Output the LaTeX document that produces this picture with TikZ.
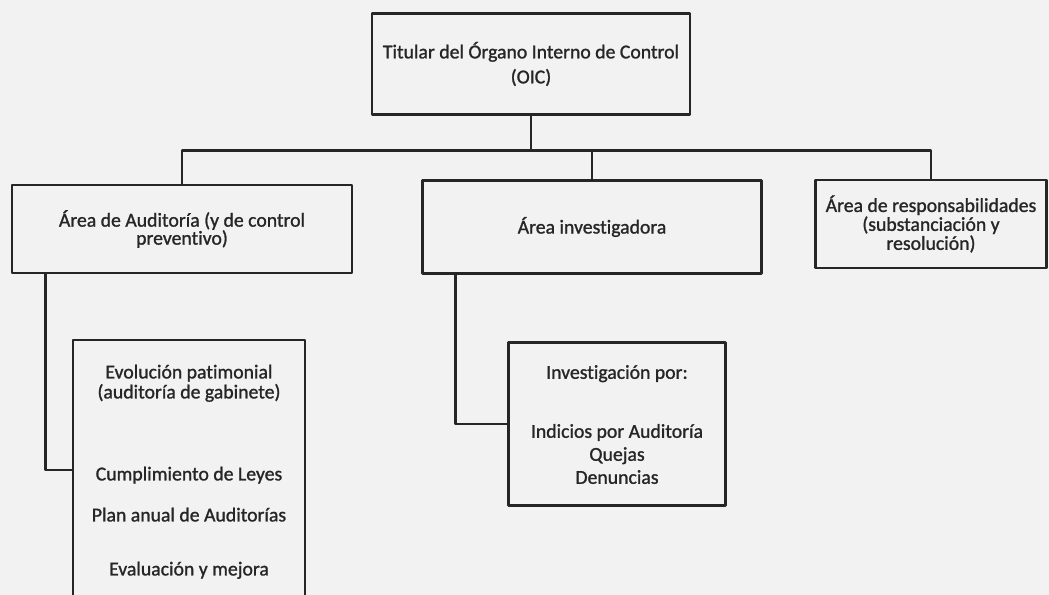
\documentclass[tikz,border=0pt]{standalone}
\usepackage{fontspec}
\setmainfont{Carlito}[Ligatures=NoCommon, FakeBold=1.2, BoldFont=Carlito]
\usepackage{tikz}
\usetikzlibrary{positioning}

\tikzset{
  unit/.style={draw=black!85, line width=2pt, rectangle, align=center,
    text=black!85, font=\bfseries\fontsize{14.8}{18.75}\selectfont},
  listbox/.style={draw=black!85, line width=2pt, rectangle},
  listtext/.style={align=center, text=black!85, font=\bfseries\fontsize{14.8}{15}\selectfont},
  link/.style={draw=black!85, line width=2pt, line cap=round}
}

\begin{document}
\begin{tikzpicture}[x=0.75pt,y=-0.75pt,line join=round]
\fill[black!5] (0,0) rectangle (1049,595);
\useasboundingbox (0,0) rectangle (1049,595);
\clip (0,0) rectangle (1049,595);
% titular
\node[unit, minimum width=238.5pt, minimum height=75.75pt] (top) at (531,64)
  {Titular del Órgano Interno de Control\\(OIC)};
% areas
\node[unit, minimum width=255pt, minimum height=66pt, font=\bfseries\fontsize{14.8}{13.5}\selectfont] (aud) at (182,229)
  {Área de Auditoría (y de control\\preventivo)};
\node[unit, minimum width=254.25pt, minimum height=69.75pt] (inv) at (592,227)
  {Área investigadora};
\node[unit, minimum width=173.25pt, minimum height=66pt, font=\bfseries\fontsize{14.8}{12.5}\selectfont] (resp) at (931,224)
  {Área de responsabilidades\\(substanciación y\\resolución)};
% sub boxes
\node[listbox, minimum width=174pt, minimum height=195pt] (audlist) at (189,470) {};
\node[listbox, minimum width=162.75pt, minimum height=122.25pt] (invlist) at (617,424) {};
\node[listtext, anchor=north] (audtxt) at ([yshift=-16pt]audlist.north)
  {Evolución patimonial\\(auditoría de gabinete)\\[46.5pt]Cumplimiento de Leyes\\[15.75pt]Plan anual de Auditorías\\[25.5pt]Evaluación y mejora};
\node[listtext, anchor=north, font=\bfseries\fontsize{14.8}{17.25}\selectfont] (invtxt) at ([yshift=-14.5pt]invlist.north)
  {Investigación por:\\[27pt]Indicios por Auditoría\\Quejas\\Denuncias};
% connectors
\draw[link] (top.south) -- ++(0,35) coordinate (bus);
\draw[link] (bus) -| (aud.north);
\draw[link] (bus) -| (inv.north);
\draw[link] (bus) -| (resp.north);
\draw[link] ([xshift=26.25pt]aud.south west) |- (audlist.west);
\draw[link] ([xshift=25.5pt]inv.south west) |- (invlist.west);
\end{tikzpicture}
\end{document}
